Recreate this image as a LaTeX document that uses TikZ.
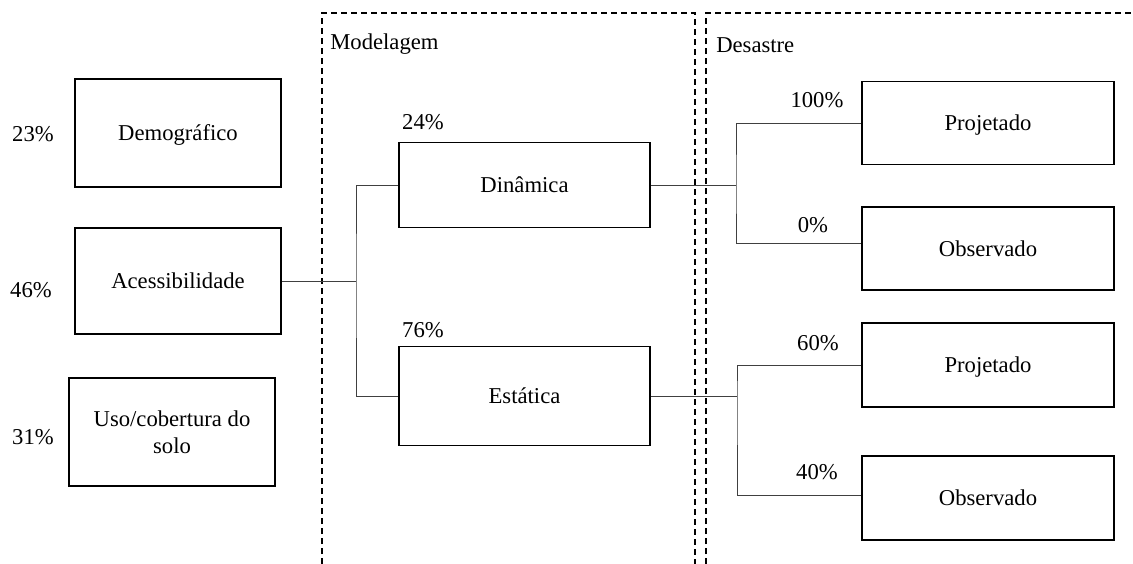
\documentclass[tikz,border=0pt]{standalone}
\usepackage{fontspec}
\setmainfont{Liberation Serif}
\usetikzlibrary{positioning}

\begin{document}
\begin{tikzpicture}[
		x=0.75pt, y=-0.75pt,
		font=\fontsize{17}{20}\selectfont,
		box/.style={draw, line width=1.3pt, align=center, inner sep=0pt},
		oneline/.style={text height=11.5pt, text depth=0pt},
		link/.style={draw=black!75, line width=0.75pt},
		frame/.style={line width=1.2pt, dash pattern=on 4.5pt off 3pt},
	]
		\useasboundingbox (0,0) rectangle (1133,564);

		% dashed groups
		\draw[frame] (322,564) -- (322,13) -- (695,13) -- (695,564);
		\draw[frame] (706,564) -- (706,13) -- (1133,13);
		\node (model label) [anchor=west, inner sep=0pt] at (330,44) {Modelagem};
		\node (disaster label) [anchor=west, inner sep=0pt] at (716,45) {Desastre};

		% inputs
		\node (demo) [box, oneline, minimum width=154.5pt, minimum height=81pt] at (178,133) {Demográfico};
		\node (acess) [box, oneline, minimum width=154.5pt, minimum height=79.5pt] at (178,281) {Acessibilidade};
		\node (uso) [box, minimum width=154.5pt, minimum height=81pt] at (172,432) {Uso/cobertura do\\solo};
		\node (demo pct) at (33,134) {23\%};
		\node (acess pct) at (31,290) {46\%};
		\node (uso pct) at (33,437) {31\%};

		% modelling
		\node (din) [box, oneline, minimum width=188.25pt, minimum height=63.75pt] at (524.5,185) {Dinâmica};
		\node (est) [box, oneline, minimum width=188.25pt, minimum height=74.25pt] at (524.5,396) {Estática};
		\node (din pct) at (423,122) {24\%};
		\node (est pct) at (423,330) {76\%};

		% disaster
		\node (proj1) [box, oneline, minimum width=189pt, minimum height=62.25pt] at (988,123) {Projetado};
		\node (obs1) [box, oneline, minimum width=189pt, minimum height=62.25pt] at (988,248.5) {Observado};
		\node (proj2) [box, oneline, minimum width=189pt, minimum height=63pt] at (988,365) {Projetado};
		\node (obs2) [box, oneline, minimum width=189pt, minimum height=63pt] at (988,498) {Observado};
		\node (proj1 pct) at (817,100) {100\%};
		\node (obs1 pct) at (813,225) {0\%};
		\node (proj2 pct) at (818,343) {60\%};
		\node (obs2 pct) at (817,472) {40\%};

		\coordinate (left fork) at (356,281);
		\coordinate (top fork) at (736,185);
		\coordinate (bottom fork) at (737,396);

		\draw[link] (acess.east) -- (left fork);
		\draw[link] (din.west) -| (left fork) |- (est.west);
		\draw[link] (din.east) -- (top fork);
		\draw[link] (proj1.west) -| (top fork) |- ([yshift=4pt]obs1.west);
		\draw[link] (est.east) -- (bottom fork);
		\draw[link] (proj2.west) -| (bottom fork) |- ([yshift=2pt]obs2.west);
	\end{tikzpicture}
\end{document}
